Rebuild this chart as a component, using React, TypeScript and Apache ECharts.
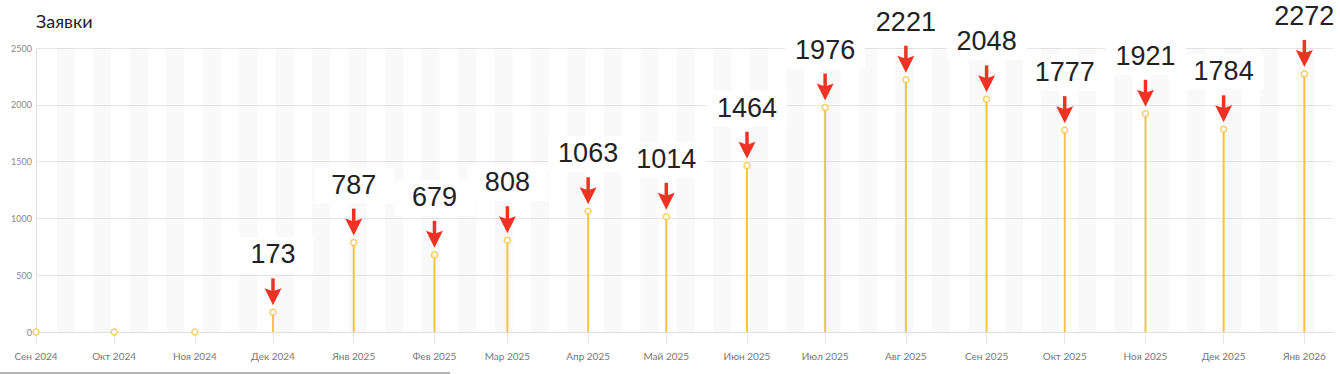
import React, { useEffect, useRef } from "react";
import * as echarts from "echarts";

const months = [
  "2024-09", "2024-10", "2024-11", "2024-12", "2025-01", "2025-02", "2025-03", "2025-04", "2025-05",
  "2025-06", "2025-07", "2025-08", "2025-09", "2025-10", "2025-11", "2025-12", "2026-01",
];
const values = [0, 0, 0, 173, 787, 679, 808, 1063, 1014, 1464, 1976, 2221, 2048, 1777, 1921, 1784, 2272];
const monthNames = ["Янв", "Фев", "Мар", "Апр", "Май", "Июн", "Июл", "Авг", "Сен", "Окт", "Ноя", "Дек"];
const yTicks = [0, 500, 1000, 1500, 2000, 2500];
const title = "Заявки";

const toTs = (m: string, day = 1) => {
  const [y, mo] = m.split("-").map(Number);
  return new Date(y, mo - 1, day).getTime();
};

const YELLOW = "#f4c444";
const RED = "#ee3324";

export default function App() {
  const ref = useRef<HTMLDivElement>(null);
  useEffect(() => {
    document.body.style.margin = "0";
    const chart = echarts.init(ref.current!, null, { renderer: "svg" });
    const xs = months.map((m) => toTs(m));
    const minTs = toTs("2024-09", 1);
    const maxTs = toTs("2026-01", 12);
    const DAY = 86400000;
    // weekly alternating background bands
    const bands: any[] = [];
    for (let t = toTs("2024-09", 9); t < maxTs; t += 14 * DAY) {
      bands.push([{ xAxis: t }, { xAxis: Math.min(t + 7 * DAY, maxTs) }]);
    }
    const pts = xs.map((x, i) => [x, values[i]]);
    const annotated = pts.filter((p) => p[1] > 0);

    chart.setOption({
      animation: false,
      backgroundColor: "#fff",
      title: {
        text: title,
        left: 31,
        top: 7,
        textStyle: { fontFamily: "Lato", fontSize: 18, fontWeight: "normal", color: "#222" },
      },
      grid: { left: 36, right: 7, top: 48, bottom: 42, outerBoundsMode: "none", containLabel: false },
      xAxis: {
        type: "value",
        min: minTs,
        max: maxTs,
        axisLine: { show: true, lineStyle: { color: "#e0e0e0", width: 1 } },
        axisTick: { show: true, customValues: xs, length: 12, lineStyle: { color: "#e6e6e6" } },
        axisLabel: {
          customValues: xs,
          formatter: (v: number) => {
            const d = new Date(v);
            return monthNames[d.getMonth()] + " " + d.getFullYear();
          },
          color: "#777",
          fontSize: 10,
          fontFamily: "Lato",
          margin: 19,
          showMinLabel: true,
          showMaxLabel: true,
          hideOverlap: false,
        },
        splitLine: { show: false },
      },
      yAxis: {
        type: "value",
        min: yTicks[0],
        max: yTicks[yTicks.length - 1],
        interval: 500,
        axisLine: { show: true, lineStyle: { color: "#e0e0e0" } },
        axisTick: { show: false },
        axisLabel: {
          color: "#888",
          fontSize: 9,
          fontFamily: "Lato",
          margin: 4,
          formatter: (v: number) => String(v),
        },
        splitLine: { show: true, lineStyle: { color: "#e6e6e6", width: 1 } },
      },
      series: [
        {
          type: "custom",
          name: "stems",
          z: 2,
          data: pts,
          markArea: {
            silent: true,
            itemStyle: { color: "rgba(0,0,0,0.022)" },
            data: bands,
          },
          renderItem: (params: any, api: any) => {
            const x = api.value(0);
            const v = api.value(1);
            if (!(v > 0)) return { type: "group", children: [] };
            const p0 = api.coord([x, 0]);
            const p1 = api.coord([x, v]);
            return {
              type: "line",
              shape: { x1: p0[0], y1: p0[1], x2: p1[0], y2: p1[1] },
              style: { stroke: YELLOW, lineWidth: 2 },
            };
          },
        },
        {
          type: "scatter",
          name: "points",
          z: 3,
          data: pts,
          symbol: "circle",
          symbolSize: 6,
          itemStyle: { color: "#fff", borderColor: YELLOW, borderWidth: 1.5 },
        },
        {
          type: "custom",
          name: "annotations",
          z: 5,
          data: annotated,
          renderItem: (params: any, api: any) => {
            const x = api.value(0);
            const v = api.value(1);
            const [px, py] = api.coord([x, v]);
            const ty = py - 58;
            return {
              type: "group",
              children: [
                {
                  type: "rect",
                  shape: { x: px - 40, y: ty - 17, width: 80, height: 36 },
                  style: { fill: "#fff" },
                },
                {
                  type: "text",
                  x: px,
                  y: ty,
                  style: {
                    text: String(v),
                    fontSize: 27,
                    fontFamily: "Liberation Sans, Arial, sans-serif",
                    fill: "#222",
                    align: "center",
                    verticalAlign: "middle",
                  },
                },
                {
                  type: "line",
                  shape: { x1: px, y1: py - 34, x2: px, y2: py - 20 },
                  style: { stroke: RED, lineWidth: 3.5 },
                },
                {
                  type: "polygon",
                  shape: {
                    points: [
                      [px - 8.5, py - 24],
                      [px, py - 21],
                      [px + 8.5, py - 24],
                      [px, py - 7],
                    ],
                  },
                  style: { fill: RED },
                },
              ],
            };
          },
        },
      ],
      graphic: [
        {
          type: "line",
          shape: { x1: 0, y1: 373, x2: 450, y2: 373 },
          style: { stroke: "#9a9a9a", lineWidth: 1.5 },
        },
      ],
    });
    return () => chart.dispose();
  }, []);
  return <div ref={ref} style={{ width: 1340, height: 374 }} />;
}
